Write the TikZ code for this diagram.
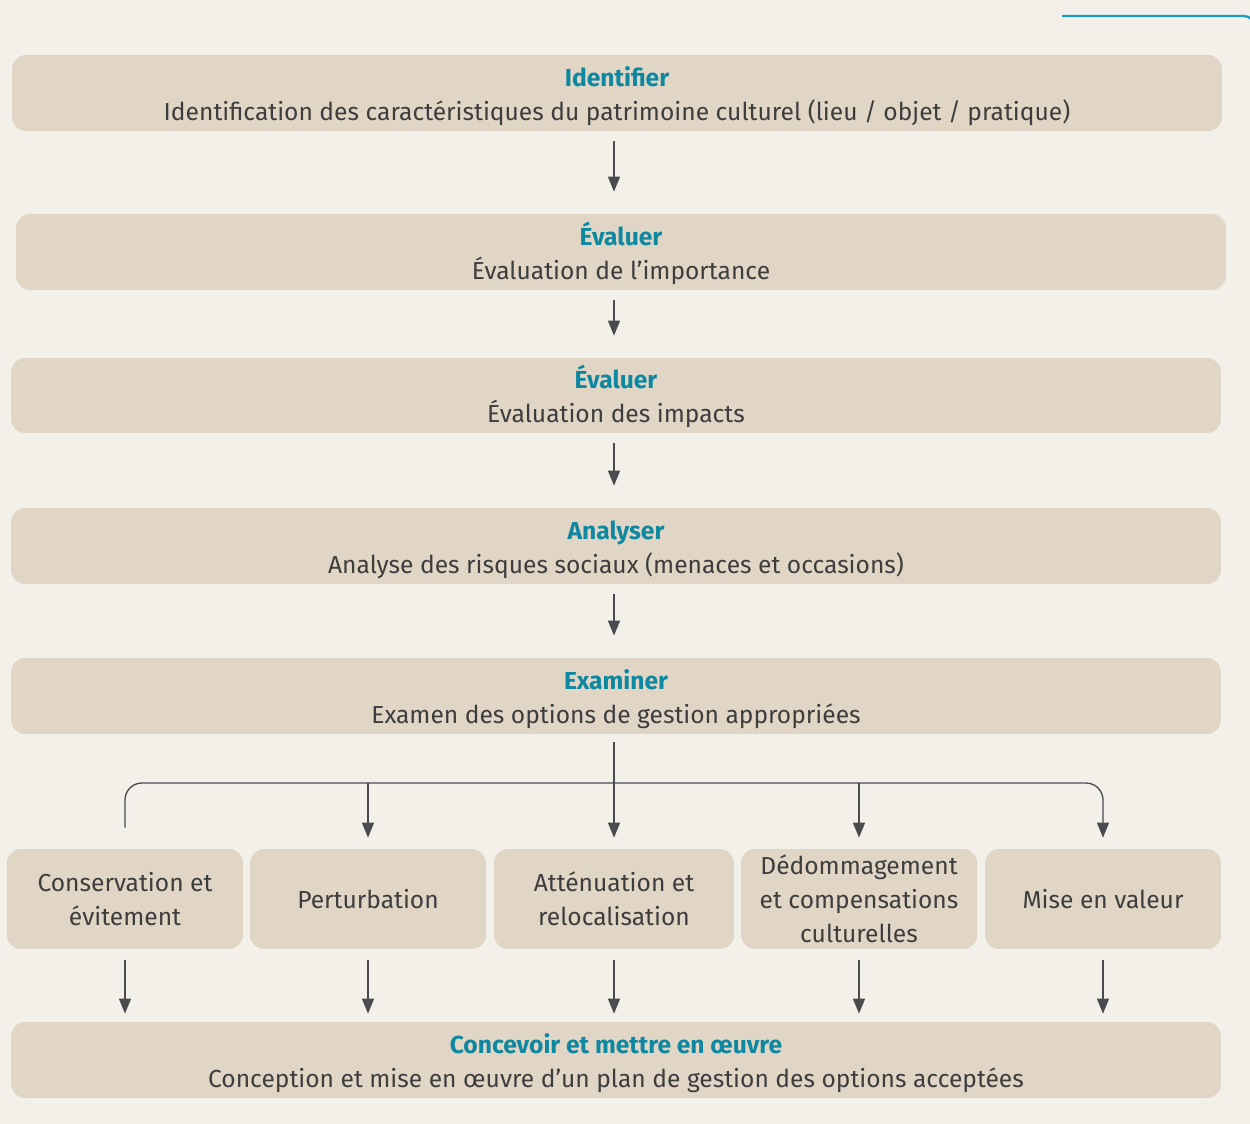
\documentclass[tikz,border=0pt]{standalone}
\usepackage{fontspec}
\setmainfont{Fira Sans}
\usetikzlibrary{arrows.meta}

\definecolor{fond}{HTML}{F3EFE9}
\definecolor{boite}{HTML}{E1D6C6}
\definecolor{titre}{HTML}{0E87A0}
\definecolor{texte}{HTML}{3D3D3D}
\definecolor{fleche}{HTML}{4B4B4F}
\definecolor{filet}{HTML}{1B9CC1}

\newcommand{\etape}[2]{{\bfseries\color{titre}\rule{0pt}{17.5pt}#1}\\#2\rule[-5.8pt]{0pt}{5.8pt}}

\begin{document}
\begin{tikzpicture}[x=0.02cm, y=-0.02cm,
  >={Triangle[length=0.3cm, width=0.24cm]},
  bigbox/.style={fill=boite, rounded corners=0.28cm, minimum width=24.2cm,
    minimum height=1.52cm, inner ysep=0pt, align=center, text=texte,
    font=\fontsize{14}{19.3}\selectfont},
  smallbox/.style={fill=boite, rounded corners=0.28cm, minimum width=4.72cm,
    minimum height=2cm, align=center, text=texte,
    font=\fontsize{14}{19.3}\selectfont},
  arr/.style={->, draw=fleche, line width=0.75pt,
    shorten <=0.2cm, shorten >=0.44cm},
  branch/.style={->, draw=fleche, line width=0.75pt, shorten >=0.22cm}]

% page
\fill[fond] (0,0) rectangle (1250,1124);
\useasboundingbox (0,0) rectangle (1250,1124);
\clip (0,0) rectangle (1250,1124);

% filet en haut a droite
\draw[filet, line width=1.3pt, rounded corners=0.2cm] (1062,16) -- (1254,16) -- (1254,60);

% etapes principales
\node[bigbox] (ident) at (617,93)
  {\etape{Identifier}{Identification des caractéristiques du patrimoine culturel (lieu / objet / pratique)}};
\node[bigbox] (evalimp) at (621,252)
  {\etape{Évaluer}{Évaluation de l’importance}};
\node[bigbox, minimum height=1.5cm] (evalimpact) at (616,395.5)
  {\etape{Évaluer}{Évaluation des impacts}};
\node[bigbox] (analyse) at (616,546)
  {\etape{Analyser}{Analyse des risques sociaux (menaces et occasions)}};
\node[bigbox] (examen) at (616,696)
  {\etape{Examiner}{Examen des options de gestion appropriées}};

% options de gestion
\node[smallbox] (conserv) at (125,899) {Conservation et\\évitement};
\node[smallbox] (perturb) at (368,899) {Perturbation};
\node[smallbox, minimum width=4.8cm] (attenu) at (614,899) {Atténuation et\\relocalisation};
\node[smallbox] (dedom) at (859,899) {Dédommagement\\et compensations\\culturelles};
\node[smallbox] (valeur) at (1103,899) {Mise en valeur};

\node[bigbox] (concev) at (616,1060)
  {\etape{Concevoir et mettre en œuvre}{Conception et mise en œuvre d’un plan de gestion des options acceptées}};

\coordinate (axe) at (614,0);
\coordinate (barre) at (0,783);

% fleches
\draw[arr] (ident.south -| axe) -- (evalimp.north -| axe);
\draw[arr] (evalimp.south -| axe) -- (evalimpact.north -| axe);
\draw[arr] (evalimpact.south -| axe) -- (analyse.north -| axe);
\draw[arr] (analyse.south -| axe) -- (examen.north -| axe);
\draw[arr, shorten >=0.22cm, shorten <=0.16cm] (examen.south -| axe) -- (attenu.north);

% embranchement
\draw[branch, rounded corners=0.34cm] ([yshift=0.42cm]conserv.north) |- (barre -| valeur.north) -- (valeur.north);
\draw[branch] (barre -| perturb.north) -- (perturb.north);
\draw[branch] (barre -| dedom.north) -- (dedom.north);

% vers la derniere etape
\foreach \opt in {conserv, perturb, attenu, dedom, valeur}
  \draw[arr, shorten <=0.22cm, shorten >=0.16cm] (\opt.south) -- (\opt.south |- concev.north);

\end{tikzpicture}
\end{document}
